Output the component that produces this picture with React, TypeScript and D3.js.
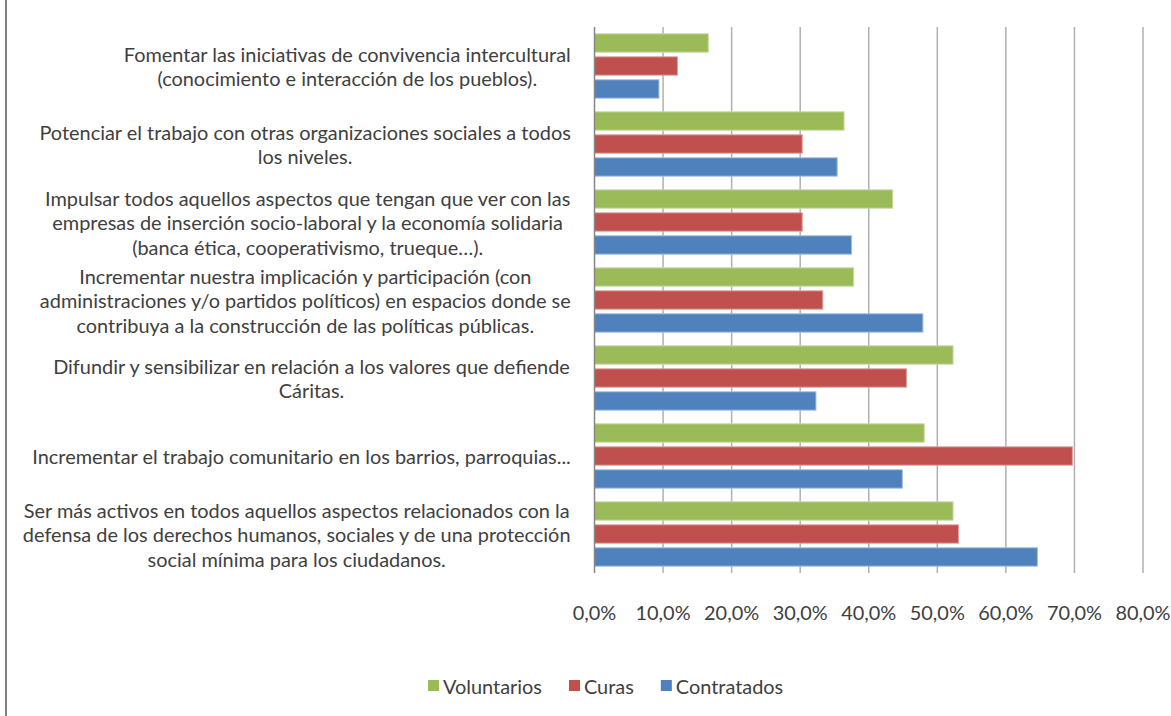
import * as d3 from "d3";

// categories, top to bottom, already wrapped like the original
const categories: string[][] = [
  ["Fomentar las iniciativas de convivencia intercultural", "(conocimiento e interacción de los pueblos)."],
  ["Potenciar el trabajo con otras organizaciones sociales a todos", "los niveles."],
  [
    "Impulsar todos aquellos aspectos que tengan que ver con las",
    "empresas de inserción socio-laboral y la economía solidaria",
    "(banca ética, cooperativismo, trueque…).",
  ],
  [
    "Incrementar nuestra implicación y participación (con",
    "administraciones y/o partidos políticos) en espacios donde se",
    "contribuya a la construcción de las políticas públicas.",
  ],
  ["Difundir y sensibilizar en relación a los valores que defiende", "Cáritas."],
  ["Incrementar el trabajo comunitario en los barrios, parroquias..."],
  [
    "Ser más activos en todos aquellos aspectos relacionados con la",
    "defensa de los derechos humanos, sociales y de una protección",
    "social mínima para los ciudadanos.",
  ],
];

const seriesNames = ["Voluntarios", "Curas", "Contratados"];
const voluntarios = [0.166, 0.364, 0.435, 0.378, 0.523, 0.481, 0.523];
const curas = [0.121, 0.303, 0.303, 0.333, 0.455, 0.697, 0.531];
const contratados = [0.094, 0.354, 0.375, 0.479, 0.323, 0.449, 0.646];
const xTicks = [0, 0.1, 0.2, 0.3, 0.4, 0.5, 0.6, 0.7, 0.8];

const colors = ["#9BBB59", "#C0504D", "#4F81BD"];
const strokes = ["#c9dba8", "#dea3a1", "#a5bfe0"];
const values = [voluntarios, curas, contratados];

const W = 1171;
const H = 716;
const FONT = "Lato, 'Liberation Sans', sans-serif";
const textColor = "#404040";

const ctx = document.createElement("canvas").getContext("2d")!;
const measure = (s: string, size: number) => {
  ctx.font = `${size}px Lato`;
  return ctx.measureText(s).width;
};
// fit the font so the widest label matches the picture
const fontSize = (16 * 547) / measure(categories[6][0], 16);

const fmt = (v: number) => d3.format(".1f")(v * 100).replace(".", ",") + "%";

export default function App() {
  const x = d3.scaleLinear().domain([0, 0.8]).range([594.5, 1143]);
  const y = d3
    .scaleBand<number>()
    .domain(categories.map((_, i) => i))
    .range([27, 573])
    .paddingInner(0.175)
    .paddingOuter(0.0875);
  const ys = d3
    .scaleBand<number>()
    .domain([0, 1, 2])
    .range([0, y.bandwidth()])
    .paddingInner(0.2);

  const labelRight = 571;
  const lineH = 24.5;

  let lx = 428;
  const legend = seriesNames.map((name, i) => {
    const item = { name, x: lx, color: colors[i] };
    lx += 11 + 4 + measure(name, fontSize) + 27;
    return item;
  });

  return (
    <svg
      width={W}
      height={H}
      style={{ position: "absolute", left: 0, top: 0, background: "#fff" }}
      fontFamily={FONT}
    >
      <line x1={6} x2={6} y1={0} y2={H} stroke="#808080" strokeWidth={2} />

      {xTicks.slice(1).map((t) => (
        <line key={t} x1={x(t)} x2={x(t)} y1={27} y2={573} stroke="#b0b0b0" strokeWidth={1.5} />
      ))}

      {categories.map((lines, ci) => {
        const maxW = d3.max(lines, (l) => measure(l, fontSize))!;
        const cx = labelRight - maxW / 2;
        const cy = y(ci)! + y.bandwidth() / 2;
        return (
          <g key={ci}>
            {values.map((vals, si) => (
              <rect
                key={si}
                x={x(0)}
                y={y(ci)! + ys(si)!}
                width={x(vals[ci]) - x(0)}
                height={ys.bandwidth()}
                fill={colors[si]}
                stroke={strokes[si]}
                strokeWidth={1}
              />
            ))}
            {lines.map((l, li) => (
              <text
                key={li}
                x={cx}
                y={cy + (li - (lines.length - 1) / 2) * lineH}
                textAnchor="middle"
                dominantBaseline="central"
                fontSize={fontSize}
                fill={textColor}
              >
                {l}
              </text>
            ))}
          </g>
        );
      })}

      <line x1={x(0)} x2={x(0)} y1={27} y2={573} stroke="#868686" strokeWidth={1.5} />

      {xTicks.map((t) => (
        <text
          key={t}
          x={x(t)}
          y={612}
          textAnchor="middle"
          dominantBaseline="central"
          fontSize={fontSize}
          fill={textColor}
        >
          {fmt(t)}
        </text>
      ))}

      {legend.map((it) => (
        <g key={it.name}>
          <rect x={it.x} y={680} width={11} height={11} fill={it.color} />
          <text x={it.x + 15} y={686} dominantBaseline="central" fontSize={fontSize} fill={textColor}>
            {it.name}
          </text>
        </g>
      ))}
    </svg>
  );
}
